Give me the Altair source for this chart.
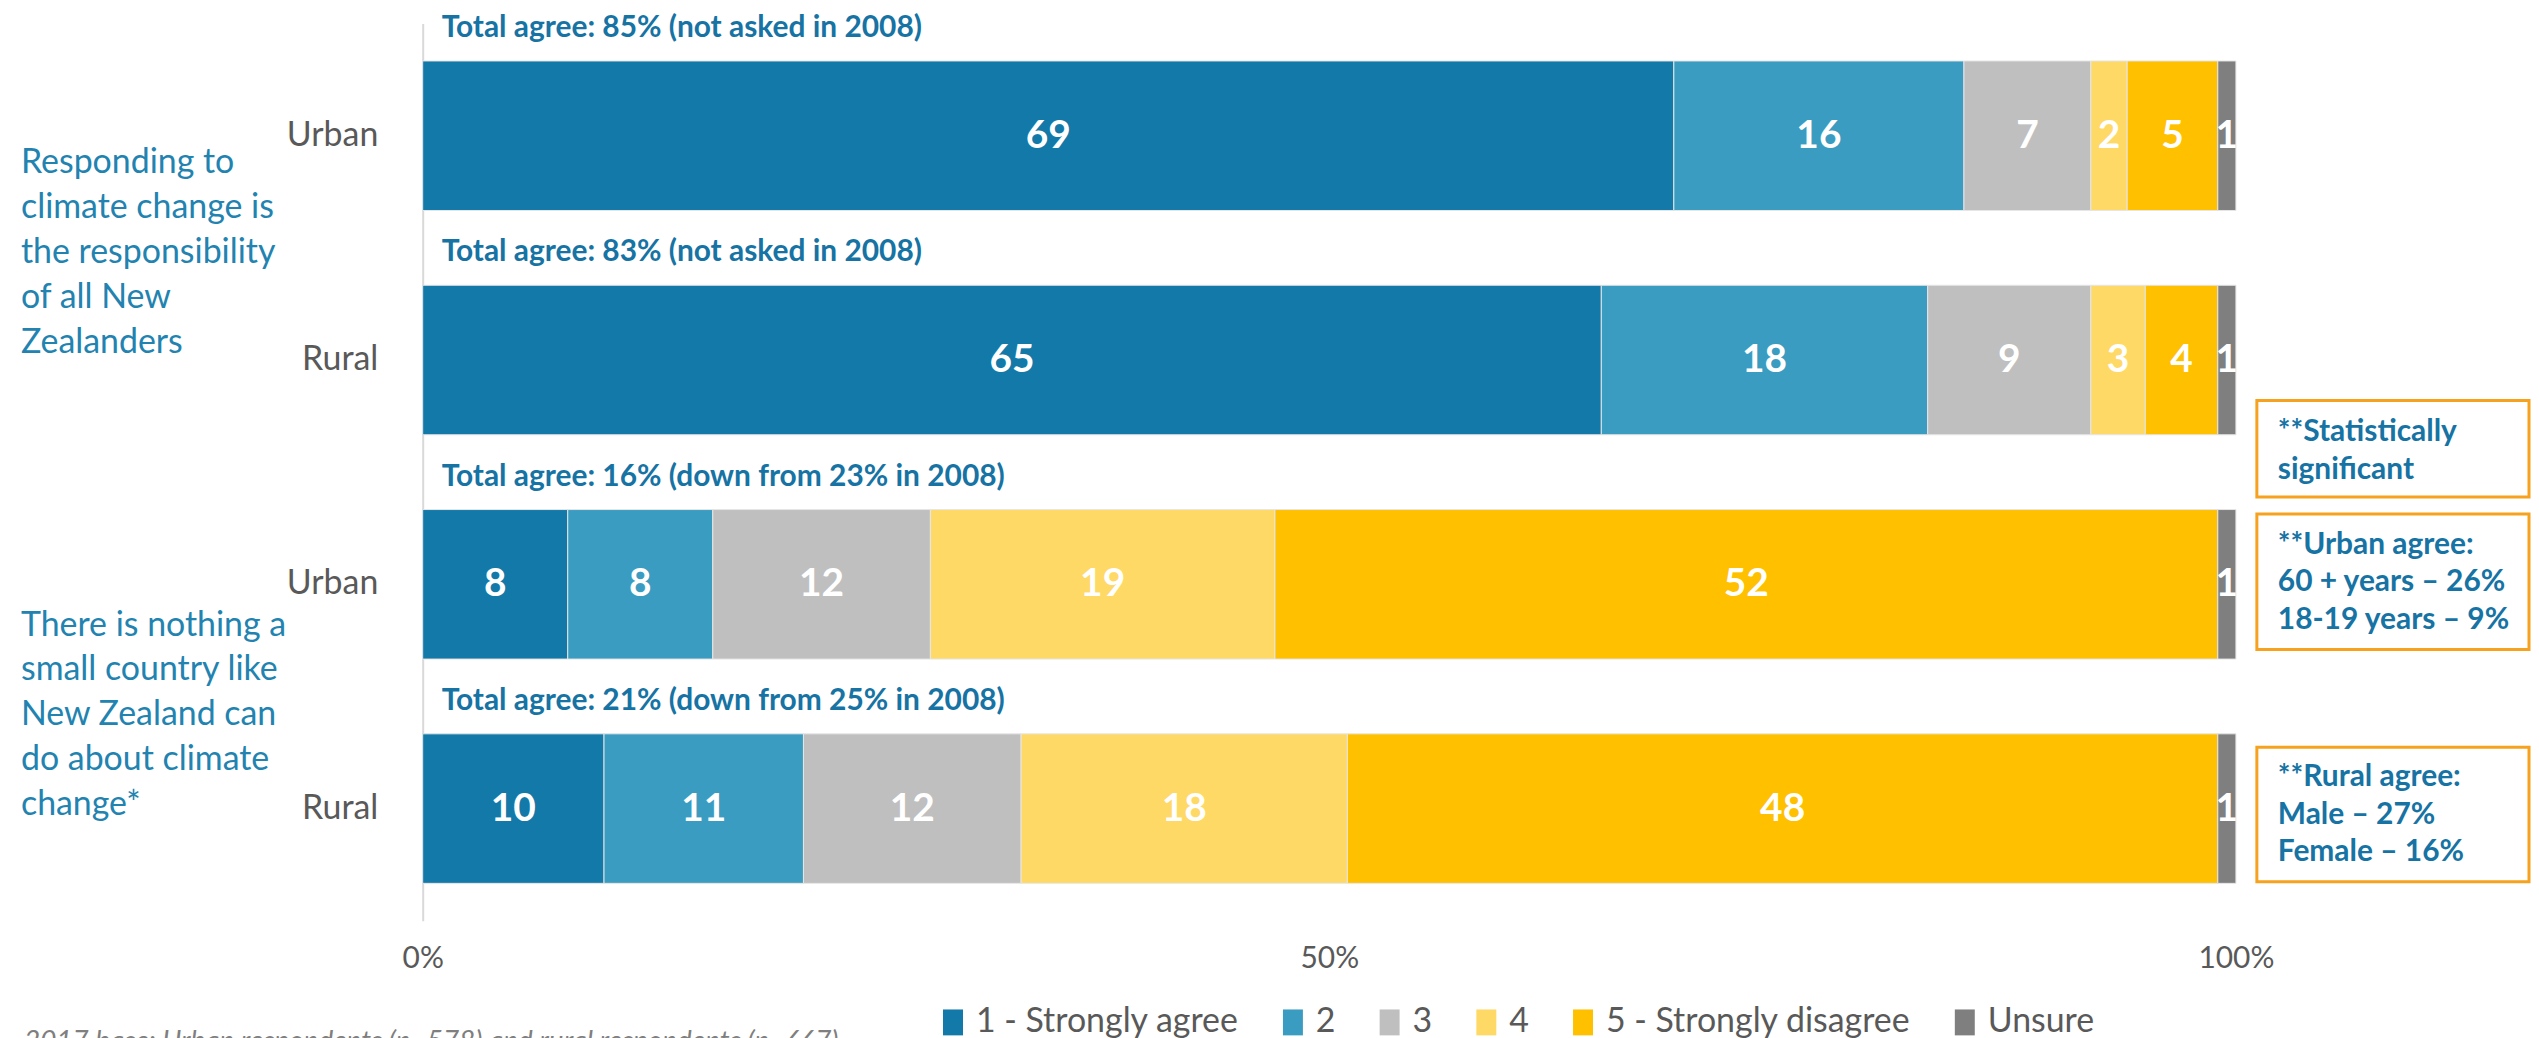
import altair as alt
import pandas as pd

# ---------------- data ----------------
row_keys = ["1|Urban", "2|Rural", "3|Urban", "4|Rural"]
categories = ["1 - Strongly agree", "2", "3", "4", "5 - Strongly disagree", "Unsure"]
colors = ["#1379A8", "#3A9CC0", "#BFBFBF", "#FFD966", "#FFC000", "#7F7F7F"]

urban_responsibility = [69, 16, 7, 2, 5, 1]
rural_responsibility = [65, 18, 9, 3, 4, 1]
urban_nothing = [8, 8, 12, 19, 52, 1]
rural_nothing = [10, 11, 12, 18, 48, 1]

total_agree = [
    "Total agree: 85% (not asked in 2008)",
    "Total agree: 83% (not asked in 2008)",
    "Total agree: 16% (down from 23% in 2008)",
    "Total agree: 21% (down from 25% in 2008)",
]
x_ticks = [0, 50, 100]
statements = [
    "Responding to\nclimate change is\nthe responsibility\nof all New\nZealanders",
    "There is nothing a\nsmall country like\nNew Zealand can\ndo about climate\nchange*",
]
notes = [
    "**Statistically\nsignificant",
    "**Urban agree:\n60 + years \u2013 26%\n18-19 years \u2013 9%",
    "**Rural agree:\nMale \u2013 27%\nFemale \u2013 16%",
]
footnote = "2017 base: Urban respondents (n=578) and rural respondents (n=667)"

# ---------------- tables ----------------
series = [urban_responsibility, rural_responsibility, urban_nothing, rural_nothing]
recs = []
for key, vals in zip(row_keys, series):
    start = 0
    for cat, v in zip(categories, vals):
        recs.append({"row": key, "cat": cat, "value": v, "start": start,
                     "end": start + v, "mid": start + v / 2})
        start += v
df = pd.DataFrame(recs)
df_tot = pd.DataFrame({"row": row_keys, "t": total_agree})

FONT = "Lato"
BLUE_BOLD = "#1673A3"
BLUE_TXT = "#2283B0"
GRAY_TXT = "#595959"

W, H = 1819, 900

yscale = alt.Scale(domain=row_keys, paddingInner=1 / 3, paddingOuter=1 / 6)
yaxis = alt.Axis(labelExpr="split(datum.label, '|')[1]", labelFont=FONT, labelFontSize=34,
                 labelColor=GRAY_TXT, labelPadding=45, ticks=False, tickSize=0,
                 domainColor="#D9D9D9", domainWidth=2, grid=False, title=None)
xscale = alt.Scale(domain=[0, 100], nice=False, zero=True)
xaxis = alt.Axis(values=x_ticks, labelExpr="datum.value + '%'", domain=False, ticks=False,
                 tickSize=0, grid=False, labelPadding=38, labelBaseline="middle",
                 labelFlush=False, labelFont=FONT, labelFontSize=30, labelColor=GRAY_TXT,
                 title=None)

y_enc = alt.Y("row:N", scale=yscale, axis=yaxis, sort=row_keys, title=None)

bars = alt.Chart(df).mark_bar(stroke="#E6E6E6", strokeWidth=1).encode(
    y=y_enc,
    x=alt.X("start:Q", scale=xscale, axis=xaxis, title=None),
    x2="end:Q",
    color=alt.Color(
        "cat:N",
        scale=alt.Scale(domain=categories, range=colors),
        legend=alt.Legend(
            orient="none", legendX=515, legendY=985, direction="horizontal", columns=6,
            title=None, symbolType="M-0.77,-1H0.77V1H-0.77Z", symbolSize=676,
            symbolStrokeWidth=0, symbolOpacity=1, labelFont=FONT, labelFontSize=34,
            labelColor=GRAY_TXT, columnPadding=37, labelOffset=6, padding=0,
            labelLimit=0,
        ),
    ),
)

values = alt.Chart(df).mark_text(color="white", font=FONT, fontWeight="bold", fontSize=39,
                                 baseline="middle", align="center").encode(
    y=y_enc,
    x=alt.X("mid:Q", scale=xscale, axis=xaxis, title=None),
    text="value:Q",
)

totals = alt.Chart(df_tot).mark_text(align="left", baseline="middle", dy=-108, font=FONT,
                                     fontWeight="bold", fontSize=30, color=BLUE_BOLD).encode(
    y=y_enc, x=alt.value(19), text="t:N"
)


def free_text(txt, x, y, **kw):
    return alt.Chart(pd.DataFrame({"t": [txt]})).mark_text(lineBreak="\n", **kw).encode(
        x=alt.value(x), y=alt.value(y), text="t:N"
    )


stmt1 = free_text(statements[0], -403, 140, align="left", baseline="middle", lineHeight=45,
                  font=FONT, fontSize=34, color=BLUE_TXT)
stmt2 = free_text(statements[1], -403, 604, align="left", baseline="middle", lineHeight=45,
                  font=FONT, fontSize=34, color=BLUE_TXT)


def box(y1, y2):
    return alt.Chart(pd.DataFrame({"a": [0]})).mark_rect(
        fill="white", stroke="#F6A21E", strokeWidth=3
    ).encode(x=alt.value(1840), x2=alt.value(2113), y=alt.value(y1), y2=alt.value(y2))


boxes = [box(378, 475), box(492, 628), box(726, 861)]
note_y = [410, 523, 756]
note_texts = [
    free_text(n, 1861, yy, align="left", baseline="middle", lineHeight=37.5, font=FONT,
              fontSize=30, fontWeight="bold", color=BLUE_BOLD)
    for n, yy in zip(notes, note_y)
]

foot = free_text(footnote, -400, 1008, align="left", baseline="top", font=FONT, fontSize=28,
                 fontStyle="italic", color="#7F7F7F")

chart = alt.layer(
    bars, values, totals, stmt1, stmt2, *boxes, *note_texts, foot
).properties(
    width=W, height=H,
    padding={"left": 416, "top": 14, "right": 296, "bottom": 116},
    autosize=alt.AutoSizeParams(type="none"),
    background="white",
).configure_view(strokeWidth=0)

chart.save("out.html", embed_options={"renderer": "svg", "actions": False})
